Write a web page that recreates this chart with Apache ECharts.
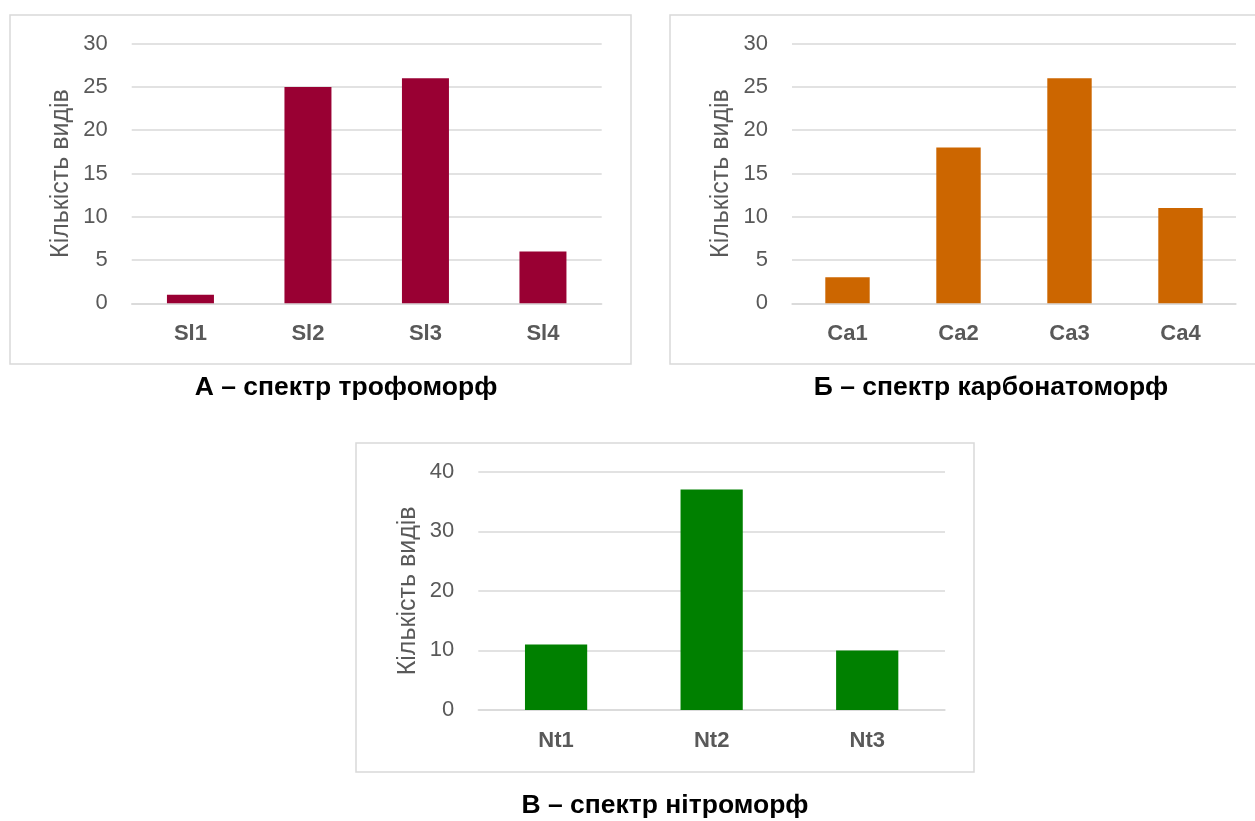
<!DOCTYPE html>
<html>
<head>
<meta charset="utf-8">
<style>html,body{margin:0;padding:0;background:#fff;}#c{width:1255px;height:821px;}</style>
<script src="https://cdn.jsdelivr.net/npm/echarts@6/dist/echarts.min.js"></script>
</head>
<body>
<div id="c"></div>
<script>
const catsA = ['Sl1', 'Sl2', 'Sl3', 'Sl4'];
const valsA = [1, 25, 26, 6];
const catsB = ['Ca1', 'Ca2', 'Ca3', 'Ca4'];
const valsB = [3, 18, 26, 11];
const catsC = ['Nt1', 'Nt2', 'Nt3'];
const valsC = [11, 37, 10];
const yName = 'Кількість видів';
const titleA = 'А – спектр трофоморф';
const titleB = 'Б – спектр карбонатоморф';
const titleC = 'В – спектр нітроморф';

const FONT = 'Liberation Sans, Arial, sans-serif';
const GRID = '#d9d9d9';
const TXT = '#595959';

function xAx(idx, cats) {
  return {
    type: 'category', gridIndex: idx, data: cats,
    axisLine: { show: true, lineStyle: { color: GRID, width: 1.5 } },
    axisTick: { show: false },
    axisLabel: { color: TXT, fontFamily: FONT, fontSize: 22, fontWeight: 'bold', margin: 20 }
  };
}
function yAx(idx, max, interval) {
  return {
    type: 'value', gridIndex: idx, min: 0, max: max, interval: interval,
    name: yName, nameLocation: 'middle', nameRotate: 90, nameGap: 58,
    nameTextStyle: { color: TXT, fontFamily: FONT, fontSize: 25 },
    axisLine: { show: false }, axisTick: { show: false },
    axisLabel: { color: TXT, fontFamily: FONT, fontSize: 22, margin: 24 },
    splitLine: { lineStyle: { color: GRID, width: 1.5 } }
  };
}
function bar(idx, vals, color) {
  return {
    type: 'bar', xAxisIndex: idx, yAxisIndex: idx, data: vals,
    barCategoryGap: '60%', itemStyle: { color: color }, silent: true
  };
}
function titleText(x, y, t) {
  return {
    type: 'text', x: x, y: y,
    style: { text: t, fill: '#000', font: 'bold 26.5px ' + FONT, textAlign: 'center', textVerticalAlign: 'middle' }
  };
}
function frame(x, y, w, h) {
  return { type: 'rect', shape: { x: x, y: y, width: w, height: h }, style: { fill: 'none', stroke: GRID, lineWidth: 1.5 }, z: -1 };
}

const chart = echarts.init(document.getElementById('c'), null, { renderer: 'canvas' });
chart.setOption({
  animation: false,
  backgroundColor: '#fff',
  grid: [
    { left: 131.7, right: 653.3, top: 43.7, bottom: 517.7 },
    { left: 792, right: 19, top: 43.7, bottom: 517.7 },
    { left: 478.3, right: 310, top: 471.7, bottom: 111 }
  ],
  xAxis: [xAx(0, catsA), xAx(1, catsB), xAx(2, catsC)],
  yAxis: [yAx(0, 30, 5), yAx(1, 30, 5), yAx(2, 40, 10)],
  series: [bar(0, valsA, '#990033'), bar(1, valsB, '#cc6600'), bar(2, valsC, '#008000')],
  graphic: [
    frame(10, 15, 621, 349),
    frame(670, 15, 600, 349),
    frame(356, 443, 618, 329),
    titleText(346, 388, titleA),
    titleText(991, 388, titleB),
    titleText(665, 806, titleC)
  ]
});
</script>
</body>
</html>
